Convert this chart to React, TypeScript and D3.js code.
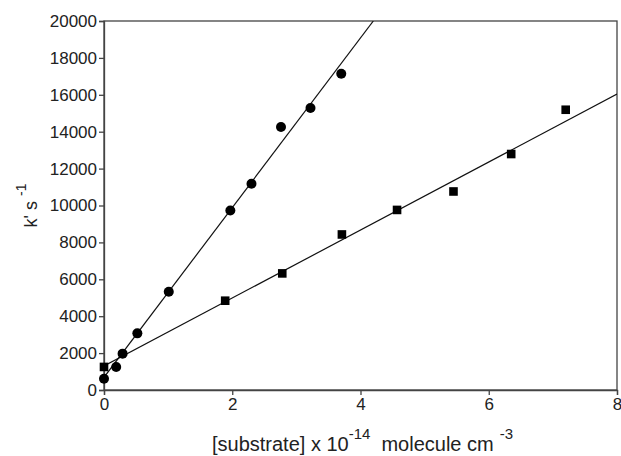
import React, { useEffect, useRef } from "react";
import * as d3 from "d3";

// circles series
const circleX = [0, 0.19, 0.29, 0.52, 1.01, 1.97, 2.3, 2.76, 3.22, 3.7];
const circleY = [610, 1250, 1970, 3070, 5330, 9730, 11180, 14250, 15280, 17140];
// squares series
const squareX = [0, 1.89, 2.78, 3.71, 4.57, 5.45, 6.35, 7.2];
const squareY = [1250, 4840, 6320, 8430, 9760, 10760, 12790, 15190];

// fitted lines (endpoints)
const circleFitX = [0, 4.2];
const circleFitY = [690, 20000];
const squareFitX = [0, 8];
const squareFitY = [1300, 16040];

const xTicks = [0, 2, 4, 6, 8];
const yTicks = [0, 2000, 4000, 6000, 8000, 10000, 12000, 14000, 16000, 18000, 20000];

const W = 621;
const H = 456;
const margin = { top: 21, right: 4, bottom: 66, left: 104 };
const FONT = "'Liberation Sans', Arial, Helvetica, sans-serif";

export default function App() {
  const ref = useRef<SVGSVGElement | null>(null);

  useEffect(() => {
    const svgEl = d3.select(ref.current);
    svgEl.selectAll("*").remove();

    const width = W - margin.left - margin.right;
    const height = H - margin.top - margin.bottom;

    const x = d3.scaleLinear().domain([0, 8]).range([0, width]);
    const y = d3.scaleLinear().domain([0, 20000]).range([height, 0]);

    const svg = svgEl
      .append("g")
      .attr("transform", `translate(${margin.left},${margin.top})`);

    svg
      .append("defs")
      .append("clipPath")
      .attr("id", "plotclip")
      .append("rect")
      .attr("width", width)
      .attr("height", height);

    // frame
    svg
      .append("rect")
      .attr("width", width)
      .attr("height", height)
      .attr("fill", "none")
      .attr("stroke", "#444")
      .attr("stroke-width", 1.3);

    // X axis
    const xAxis = svg
      .append("g")
      .attr("transform", `translate(0,${height})`)
      .call(
        d3
          .axisBottom(x)
          .tickValues(xTicks)
          .tickFormat(d3.format("d"))
          .tickSize(5)
          .tickPadding(3)
      );

    // Y axis
    const yAxis = svg.append("g").call(
      d3
        .axisLeft(y)
        .tickValues(yTicks)
        .tickFormat(d3.format("d"))
        .tickSize(5)
        .tickPadding(2)
    );

    [xAxis, yAxis].forEach((ax) => {
      ax.select(".domain").attr("stroke", "#444").attr("stroke-width", 1.3);
      ax.selectAll(".tick line").attr("stroke", "#444").attr("stroke-width", 1.3);
      ax.selectAll(".tick text")
        .attr("fill", "#222")
        .style("font-family", FONT)
        .style("font-size", "17px");
    });

    // fit lines
    const lineGen = d3
      .line<[number, number]>()
      .x((d) => x(d[0]))
      .y((d) => y(d[1]));

    const fits: [number[], number[]][] = [
      [circleFitX, circleFitY],
      [squareFitX, squareFitY],
    ];
    fits.forEach(([fx, fy]) => {
      svg
        .append("path")
        .datum(fx.map((v, i) => [v, fy[i]] as [number, number]))
        .attr("d", lineGen)
        .attr("clip-path", "url(#plotclip)")
        .attr("fill", "none")
        .attr("stroke", "#111")
        .attr("stroke-width", 1.2);
    });

    // circles
    svg
      .selectAll("circle.pt")
      .data(circleX.map((v, i) => [v, circleY[i]]))
      .join("circle")
      .attr("class", "pt")
      .attr("cx", (d) => x(d[0]))
      .attr("cy", (d) => y(d[1]))
      .attr("r", 5)
      .attr("fill", "#000");

    // squares
    const s = 8.6;
    svg
      .selectAll("rect.pt")
      .data(squareX.map((v, i) => [v, squareY[i]]))
      .join("rect")
      .attr("class", "pt")
      .attr("x", (d) => x(d[0]) - s / 2)
      .attr("y", (d) => y(d[1]) - s / 2)
      .attr("width", s)
      .attr("height", s)
      .attr("fill", "#000");

    // X axis label
    const xl = svg
      .append("text")
      .attr("x", width / 2 + 2)
      .attr("y", height + 61)
      .attr("text-anchor", "middle")
      .attr("fill", "#222")
      .style("font-family", FONT)
      .style("font-size", "20px");
    xl.append("tspan").text("[substrate] x 10");
    xl.append("tspan").attr("dy", -12).style("font-size", "15px").text("-14");
    xl.append("tspan").attr("dy", 12).attr("dx", 11).text("molecule cm");
    xl.append("tspan").attr("dy", -12).attr("dx", 6).style("font-size", "15px").text("-3");

    // Y axis label
    const yl = svg
      .append("text")
      .attr("transform", "rotate(-90)")
      .attr("x", -height / 2)
      .attr("y", -margin.left + 37)
      .attr("text-anchor", "middle")
      .attr("fill", "#222")
      .style("font-family", FONT)
      .style("font-size", "18px");
    yl.append("tspan").text("k' s");
    yl.append("tspan").attr("dy", -11).attr("dx", 5).style("font-size", "14px").text("-1");
  }, []);

  return (
    <svg
      ref={ref}
      width={W}
      height={H}
      style={{ position: "absolute", left: 0, top: 0, background: "#fff" }}
    />
  );
}
